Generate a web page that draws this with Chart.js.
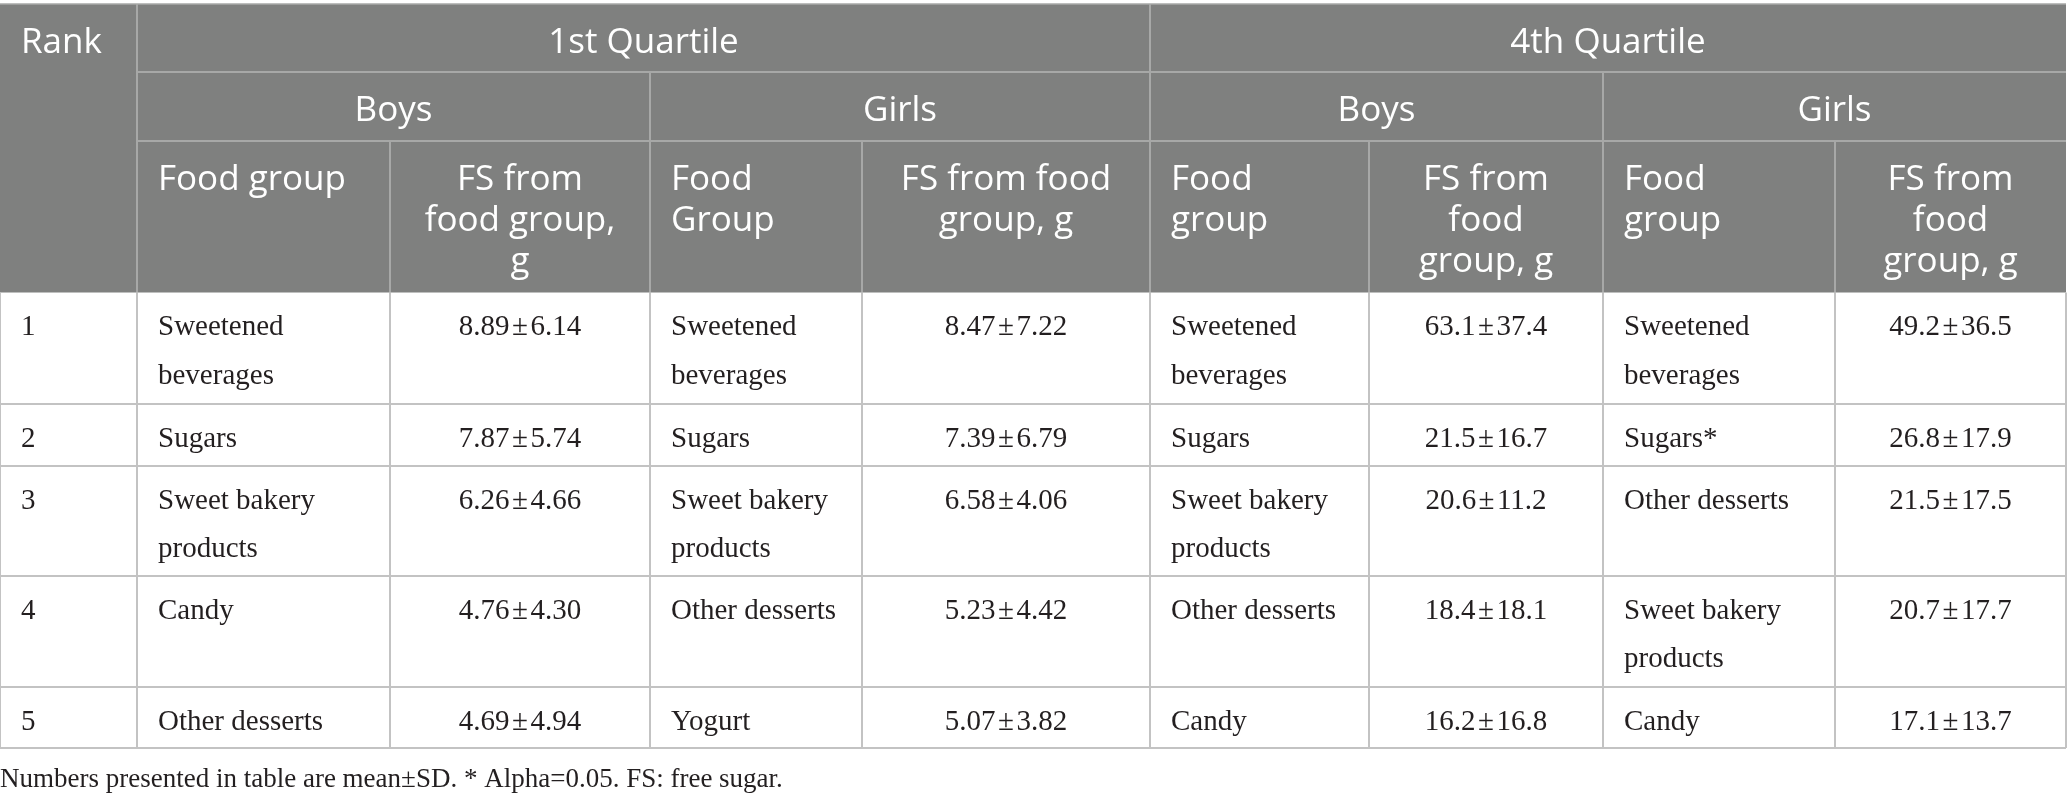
<!DOCTYPE html>
<html>
<head>
<meta charset="utf-8">
<script src="https://cdn.jsdelivr.net/npm/chart.js@4.4.1/dist/chart.umd.min.js"></script>
<style>
html,body{margin:0;padding:0;background:#ffffff;}
#wrap{width:2068px;height:805px;position:relative;}
</style>
</head>
<body>
<div id="wrap"><canvas id="c"></canvas></div>
<script>
// ---------------- DATA ----------------
const rankLabel = 'Rank';
const quartileLabels = ['1st Quartile', '4th Quartile'];
const sexLabels = ['Boys', 'Girls', 'Boys', 'Girls'];
const columnLabels = [
  'Food group', 'FS from\nfood group,\ng',
  'Food\nGroup', 'FS from food\ngroup, g',
  'Food\ngroup', 'FS from\nfood\ngroup, g',
  'Food\ngroup', 'FS from\nfood\ngroup, g'
];
const ranks = ['1', '2', '3', '4', '5'];

const q1BoysFood  = ['Sweetened\nbeverages', 'Sugars', 'Sweet bakery\nproducts', 'Candy', 'Other desserts'];
const q1BoysMean  = [8.89, 7.87, 6.26, 4.76, 4.69];
const q1BoysSD    = [6.14, 5.74, 4.66, 4.30, 4.94];

const q1GirlsFood = ['Sweetened\nbeverages', 'Sugars', 'Sweet bakery\nproducts', 'Other desserts', 'Yogurt'];
const q1GirlsMean = [8.47, 7.39, 6.58, 5.23, 5.07];
const q1GirlsSD   = [7.22, 6.79, 4.06, 4.42, 3.82];

const q4BoysFood  = ['Sweetened\nbeverages', 'Sugars', 'Sweet bakery\nproducts', 'Other desserts', 'Candy'];
const q4BoysMean  = [63.1, 21.5, 20.6, 18.4, 16.2];
const q4BoysSD    = [37.4, 16.7, 11.2, 18.1, 16.8];

const q4GirlsFood = ['Sweetened\nbeverages', 'Sugars*', 'Other desserts', 'Sweet bakery\nproducts', 'Candy'];
const q4GirlsMean = [49.2, 26.8, 21.5, 20.7, 17.1];
const q4GirlsSD   = [36.5, 17.9, 17.5, 17.7, 13.7];

const decimals = [2, 2, 1, 1];
const footnote = 'Numbers presented in table are mean\u00b1SD. * Alpha=0.05. FS: free sugar.';

// ---------------- LAYOUT (positions / styles only) ----------------
const LAYOUT = {
  width: 2068, height: 805,
  colEdges: [0, 137, 390, 650, 862, 1150, 1369, 1603, 1835, 2066],
  headEdges: [4, 72, 141, 292.5],
  bodyEdges: [292.5, 404, 466, 576, 687, 748],
  footBaseline: 787,
  pad: 21,
  headFont: '35px "Open Sans"',
  headLineH: 41,
  headBaseOff: 49,
  bodyFont: '29px "Liberation Serif"',
  footFont: '27px "Liberation Serif"',
  bodyLineH: 48.5,
  bodyBaseOff: 42.5,
  headBg: '#7f807f',
  headLine: '#a7a8a7',
  bodyLine: '#c3c3c3',
  headText: '#ffffff',
  bodyText: '#231f20'
};

function fmt(m, s, d) { return m.toFixed(d) + '\u200a\u00b1\u200a' + s.toFixed(d); }

const bodyColumns = [
  {texts: ranks, align: 'left'},
  {texts: q1BoysFood, align: 'left'},
  {texts: q1BoysMean.map((m, i) => fmt(m, q1BoysSD[i], decimals[0])), align: 'center'},
  {texts: q1GirlsFood, align: 'left'},
  {texts: q1GirlsMean.map((m, i) => fmt(m, q1GirlsSD[i], decimals[1])), align: 'center'},
  {texts: q4BoysFood, align: 'left'},
  {texts: q4BoysMean.map((m, i) => fmt(m, q4BoysSD[i], decimals[2])), align: 'center'},
  {texts: q4GirlsFood, align: 'left'},
  {texts: q4GirlsMean.map((m, i) => fmt(m, q4GirlsSD[i], decimals[3])), align: 'center'}
];

function drawText(ctx, text, x0, x1, yTop, font, color, align, baseOff, lineH, pad) {
  ctx.save();
  ctx.font = font;
  ctx.fillStyle = color;
  ctx.textBaseline = 'alphabetic';
  ctx.textAlign = align;
  const x = align === 'center' ? (x0 + x1) / 2 : x0 + pad;
  text.split('\n').forEach((line, i) => {
    ctx.fillText(line, x, yTop + baseOff + i * lineH);
  });
  ctx.restore();
}

function line(ctx, xa, ya, xb, yb, color, w) {
  ctx.save();
  ctx.strokeStyle = color;
  ctx.lineWidth = w;
  ctx.beginPath();
  ctx.moveTo(xa, ya);
  ctx.lineTo(xb, yb);
  ctx.stroke();
  ctx.restore();
}

const tablePlugin = {
  id: 'tablePlugin',
  afterDraw(chart) {
    const ctx = chart.ctx;
    const xs = chart.scales.x, ys = chart.scales.y;
    const X = LAYOUT.colEdges.map(v => xs.getPixelForValue(v));
    const H = LAYOUT.headEdges.map(v => ys.getPixelForValue(v));
    const B = LAYOUT.bodyEdges.map(v => ys.getPixelForValue(v));
    const L = LAYOUT;

    // header background
    ctx.save();
    ctx.fillStyle = L.headBg;
    ctx.fillRect(X[0], H[0], X[9] - X[0], H[3] - H[0]);
    ctx.restore();
    line(ctx, X[0], H[0], X[9], H[0], L.headLine, 1.5);

    // header grid lines
    line(ctx, X[1], H[0], X[1], H[3], L.headLine, 2);
    line(ctx, X[5], H[0], X[5], H[3], L.headLine, 2);
    line(ctx, X[1], H[1], X[9], H[1], L.headLine, 2);
    line(ctx, X[1], H[2], X[9], H[2], L.headLine, 2);
    [3, 7].forEach(i => line(ctx, X[i], H[1], X[i], H[3], L.headLine, 2));
    [2, 4, 6, 8].forEach(i => line(ctx, X[i], H[2], X[i], H[3], L.headLine, 2));

    // header text
    drawText(ctx, rankLabel, X[0], X[1], H[0], L.headFont, L.headText, 'left', L.headBaseOff, L.headLineH, L.pad);
    drawText(ctx, quartileLabels[0], X[1], X[5], H[0], L.headFont, L.headText, 'center', L.headBaseOff, L.headLineH, L.pad);
    drawText(ctx, quartileLabels[1], X[5], X[9], H[0], L.headFont, L.headText, 'center', L.headBaseOff, L.headLineH, L.pad);
    sexLabels.forEach((s, k) => {
      drawText(ctx, s, X[1 + 2 * k], X[3 + 2 * k], H[1], L.headFont, L.headText, 'center', L.headBaseOff, L.headLineH, L.pad);
    });
    columnLabels.forEach((t, k) => {
      const al = k % 2 === 0 ? 'left' : 'center';
      drawText(ctx, t, X[1 + k], X[2 + k], H[2], L.headFont, L.headText, al, L.headBaseOff, L.headLineH, L.pad);
    });

    // body grid
    for (let r = 1; r < B.length; r++) line(ctx, X[0], B[r], X[9], B[r], L.bodyLine, 2);
    for (let c = 0; c < X.length; c++) line(ctx, X[c], B[0], X[c], B[B.length - 1], L.bodyLine, 2);

    // body text
    bodyColumns.forEach((col, c) => {
      col.texts.forEach((t, r) => {
        drawText(ctx, t, X[c], X[c + 1], B[r], L.bodyFont, L.bodyText, col.align, L.bodyBaseOff, L.bodyLineH, L.pad);
      });
    });

    // footnote
    ctx.save();
    ctx.font = L.footFont;
    ctx.fillStyle = L.bodyText;
    ctx.textAlign = 'left';
    ctx.textBaseline = 'alphabetic';
    ctx.fillText(footnote, X[0], ys.getPixelForValue(L.footBaseline));
    ctx.restore();
  }
};

new Chart(document.getElementById('c').getContext('2d'), {
  type: 'scatter',
  data: { datasets: [] },
  options: {
    responsive: true,
    maintainAspectRatio: false,
    animation: false,
    events: [],
    layout: { padding: 0 },
    plugins: { legend: { display: false }, tooltip: { enabled: false }, title: { display: false } },
    scales: {
      x: { type: 'linear', min: 0, max: LAYOUT.width, display: false },
      y: { type: 'linear', min: 0, max: LAYOUT.height, reverse: true, display: false }
    }
  },
  plugins: [tablePlugin]
});
</script>
</body>
</html>
